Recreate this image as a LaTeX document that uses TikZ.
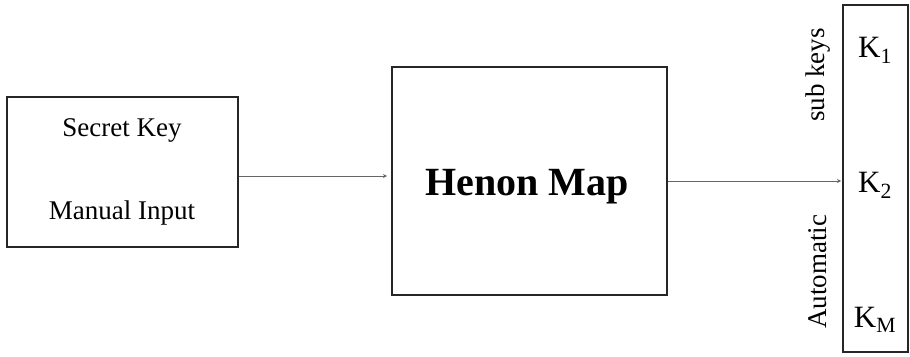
\documentclass[tikz,border=0pt]{standalone}
\usepackage{fontspec}
\setmainfont{Liberation Serif}
\usetikzlibrary{arrows.meta}
\begin{document}
\begin{tikzpicture}[x=1pt,y=-1pt,
  blockbox/.style={draw=black!85,line width=1.6pt,inner sep=0pt},
  conn/.style={draw=black!60,line width=1pt,-{Stealth[length=4pt,width=4pt]}},
  lbl/.style={font=\fontsize{27}{29}\selectfont},
  klbl/.style={font=\fontsize{31}{33}\selectfont}]
\useasboundingbox (0,0) rectangle (910,356);
\node[blockbox,minimum width=231pt,minimum height=150pt] (sk) at (122.5,172) {};
\node[lbl] (t1) at (122,130) {Secret Key};
\node[lbl] (t2) at (122,213) {Manual Input};
\node[blockbox,minimum width=275pt,minimum height=228pt] (hm) at (529.5,181) {};
\node[font=\fontsize{40}{42}\selectfont\bfseries] (ht) at (527,187) {Henon Map};
\node[blockbox,minimum width=65pt,minimum height=347pt] (kb) at (875.5,178.5) {};
\node[klbl] (k1) at (875,50) {K\textsubscript{1}};
\node[klbl] (k2) at (875,185) {K\textsubscript{2}};
\node[klbl] (km) at (875,320) {K\textsubscript{M}};
\node[lbl,rotate=90] (sub) at (818,75) {sub keys};
\node[lbl,rotate=90] (aut) at (818,272) {Automatic};
\coordinate (a1) at (sk.east |- 0,176);
\coordinate (a2) at (387,176);
\draw[conn] (a1) -- (a2);
\coordinate (b1) at (hm.east |- 0,181);
\coordinate (b2) at (841,181);
\draw[conn] (b1) -- (b2);
\end{tikzpicture}
\end{document}
